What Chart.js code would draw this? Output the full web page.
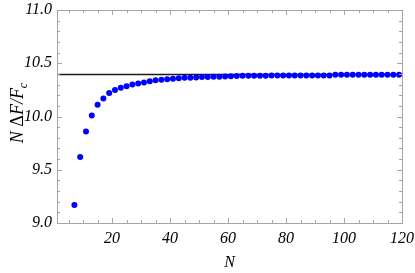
<!DOCTYPE html>
<html>
<head>
<meta charset="utf-8">
<script src="https://cdn.jsdelivr.net/npm/chart.js@4.4.1/dist/chart.umd.min.js"></script>
<style>
html,body{margin:0;padding:0;background:#fff;}
#wrap{width:415px;height:273px;}
</style>
</head>
<body>
<div id="wrap"><canvas id="c" width="415" height="273"></canvas></div>
<script>
// ---- data ----
const nValues = [7,9,11,13,15,17,19,21,23,25,27,29,31,33,35,37,39,41,43,45,47,49,51,53,55,57,59,61,63,65,67,69,71,73,75,77,79,81,83,85,87,89,91,93,95,97,99,101,103,105,107,109,111,113,115,117,119];
const ratioValues = [9.17,9.62,9.86,10.01,10.11,10.17,10.22,10.25,10.27,10.285,10.30,10.31,10.32,10.33,10.34,10.345,10.35,10.355,10.36,10.363,10.365,10.367,10.37,10.372,10.373,10.374,10.376,10.377,10.381,10.382,10.382,10.383,10.383,10.383,10.384,10.384,10.384,10.385,10.385,10.385,10.385,10.386,10.386,10.386,10.386,10.391,10.391,10.392,10.392,10.392,10.392,10.393,10.393,10.393,10.393,10.393,10.393];
const asymptote = 10.395;
const xRange = [1, 120];
const yRange = [9.0, 11.0];
const xTickLabels = [20,40,60,80,100,120];
const yTickLabels = [9.0,9.5,10.0,10.5,11.0];
const xMinorStep = 5;
const yMinorStep = 0.1;
const xTitle = 'N';

const FONT = '"Liberation Serif","DejaVu Serif",serif';
const FRAME = '#a6a6a6';

const framePlugin = {
  id: 'frame',
  afterDraw(chart) {
    const ctx = chart.ctx, a = chart.chartArea;
    const xs = chart.scales.x, ys = chart.scales.y;
    ctx.save();
    ctx.strokeStyle = FRAME;
    ctx.lineWidth = 1;
    ctx.strokeRect(Math.round(a.left)+0.5, Math.round(a.top)+0.5, Math.round(a.right-a.left), Math.round(a.bottom-a.top));
    ctx.beginPath();
    // x ticks
    for (let v = Math.ceil(xRange[0]/xMinorStep)*xMinorStep; v <= xRange[1]+1e-9; v += xMinorStep) {
      const px = Math.round(xs.getPixelForValue(v)) + 0.5;
      const major = xTickLabels.includes(v);
      const len = major ? 5 : 3;
      ctx.moveTo(px, a.bottom); ctx.lineTo(px, a.bottom - len);
      ctx.moveTo(px, a.top); ctx.lineTo(px, a.top + len);
    }
    // y ticks
    const nY = Math.round((yRange[1]-yRange[0])/yMinorStep);
    for (let i = 0; i <= nY; i++) {
      const v = yRange[0] + i*yMinorStep;
      const py = Math.round(ys.getPixelForValue(v)) + 0.5;
      const major = yTickLabels.some(t => Math.abs(t - v) < 1e-6);
      const len = major ? 5 : 3;
      ctx.moveTo(a.left, py); ctx.lineTo(a.left + len, py);
      ctx.moveTo(a.right, py); ctx.lineTo(a.right - len, py);
    }
    ctx.stroke();

    // axis titles
    ctx.fillStyle = '#000';
    ctx.font = 'italic 16px ' + FONT;
    ctx.textAlign = 'center';
    ctx.textBaseline = 'alphabetic';
    ctx.fillText(xTitle, (a.left + a.right)/2, 267);

    // y title: N ΔF/F_c
    ctx.translate(23, 113);
    ctx.rotate(-Math.PI/2);
    const parts = [
      {t:'N ', f:'italic 18px ' + FONT, dy:0},
      {t:'\u0394', f:'18px ' + FONT, dy:0},
      {t:'F/F', f:'italic 18px ' + FONT, dy:0},
      {t:'c', f:'italic 12px ' + FONT, dy:4}
    ];
    let w = 0;
    parts.forEach(p => { ctx.font = p.f; p.w = ctx.measureText(p.t).width; w += p.w; });
    let x0 = -w/2;
    ctx.textAlign = 'left';
    parts.forEach(p => { ctx.font = p.f; ctx.fillText(p.t, x0, p.dy); x0 += p.w; });
    ctx.restore();
  }
};

const scatterData = nValues.map((n, i) => ({x: n, y: ratioValues[i]}));

new Chart(document.getElementById('c'), {
  type: 'scatter',
  data: {
    datasets: [
      {
        type: 'line',
        data: [{x: xRange[0], y: asymptote}, {x: xRange[1], y: asymptote}],
        borderColor: '#1a1a1a',
        borderWidth: 1.5,
        pointRadius: 0,
        fill: false,
        order: 2
      },
      {
        data: scatterData,
        backgroundColor: '#0000ff',
        borderColor: '#0000ff',
        pointRadius: 3,
        pointBorderWidth: 0,
        order: 1
      }
    ]
  },
  options: {
    responsive: false,
    animation: false,
    devicePixelRatio: 1,
    layout: { padding: { top: 10, right: 13, left: 0, bottom: 0 } },
    plugins: { legend: { display: false }, tooltip: { enabled: false } },
    scales: {
      x: {
        type: 'linear',
        min: xRange[0], max: xRange[1],
        border: { display: false },
        grid: { display: false, drawTicks: false },
        afterBuildTicks: s => { s.ticks = xTickLabels.map(v => ({value: v})); },
        afterFit: s => { s.height = 50; s.paddingLeft = 0; s.paddingRight = 0; },
        ticks: {
          padding: 6,
          color: '#000',
          font: { family: FONT, size: 16, style: 'italic' },
          maxRotation: 0,
          autoSkip: false,
          callback: v => String(v)
        }
      },
      y: {
        type: 'linear',
        min: yRange[0], max: yRange[1],
        border: { display: false },
        grid: { display: false, drawTicks: false },
        afterBuildTicks: s => { s.ticks = yTickLabels.map(v => ({value: v})); },
        afterFit: s => { s.width = 57; s.paddingTop = 0; s.paddingBottom = 0; },
        ticks: {
          padding: 5,
          color: '#000',
          font: { family: FONT, size: 16, style: 'italic' },
          autoSkip: false,
          callback: v => Number(v).toFixed(1)
        }
      }
    }
  },
  plugins: [framePlugin]
});
</script>
</body>
</html>
